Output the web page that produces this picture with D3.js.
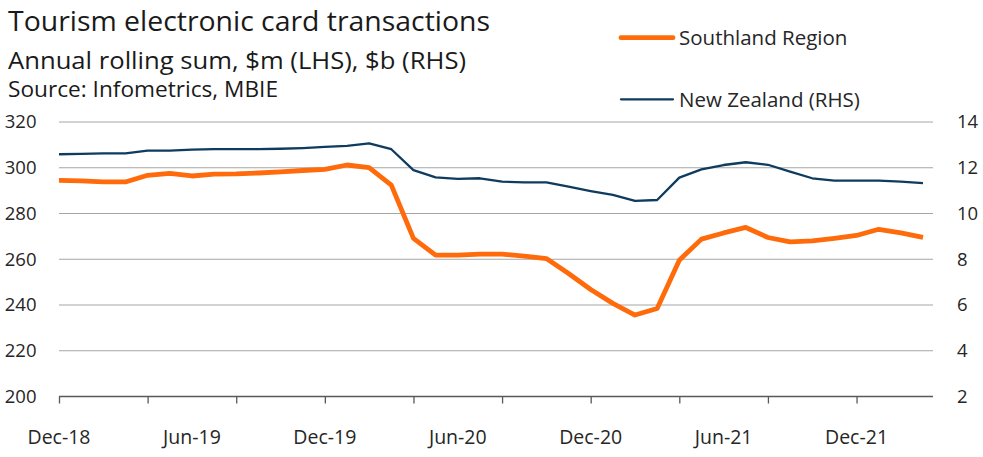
<!DOCTYPE html>
<html><head><meta charset="utf-8">
<script src="https://cdn.jsdelivr.net/npm/d3@7"></script>
<style>
html,body{margin:0;padding:0;background:#fff;}
svg{display:block;font-family:"Open Sans","Noto Sans",sans-serif;}
</style></head>
<body><svg id="c" width="983" height="457"></svg>
<script>
const months = ["Dec-18","Jan-19","Feb-19","Mar-19","Apr-19","May-19","Jun-19","Jul-19","Aug-19","Sep-19","Oct-19","Nov-19",
"Dec-19","Jan-20","Feb-20","Mar-20","Apr-20","May-20","Jun-20","Jul-20","Aug-20","Sep-20","Oct-20","Nov-20",
"Dec-20","Jan-21","Feb-21","Mar-21","Apr-21","May-21","Jun-21","Jul-21","Aug-21","Sep-21","Oct-21","Nov-21",
"Dec-21","Jan-22","Feb-22","Mar-22"];
const southland = [294.5,294.3,293.8,293.8,296.7,297.5,296.4,297.2,297.3,297.7,298.2,298.8,
299.3,301.2,300.1,292.4,269.1,261.8,261.8,262.2,262.2,261.4,260.3,253.8,
246.8,240.7,235.6,238.5,259.6,268.8,271.5,273.9,269.5,267.6,268.0,269.1,
270.4,273.1,271.5,269.6];
const newZealand = [12.59,12.61,12.63,12.63,12.75,12.75,12.79,12.81,12.81,12.81,12.83,12.86,
12.91,12.96,13.07,12.81,11.90,11.58,11.51,11.54,11.39,11.36,11.36,11.17,
10.98,10.81,10.55,10.59,11.57,11.93,12.12,12.24,12.13,11.83,11.54,11.44,
11.44,11.44,11.39,11.33];
const leftTicks = [200,220,240,260,280,300,320];
const rightTicks = [2,4,6,8,10,12,14];
const xLabelMonths = ["Dec-18","Jun-19","Dec-19","Jun-20","Dec-20","Jun-21","Dec-21"];
const xTickEvery = 4;
const titleText = "Tourism electronic card transactions";
const subtitleText = "Annual rolling sum, $m (LHS), $b (RHS)";
const sourceText = "Source: Infometrics, MBIE";
const seriesNames = ["Southland Region","New Zealand (RHS)"];

const svg = d3.select("#c");
const L = 59, R = 933, T = 122, B = 396.5;
const x = d3.scaleLinear().domain([0, months.length - 1]).range([L, 923]);
const yL = d3.scaleLinear().domain([200, 320]).range([B, T]);
const yR = d3.scaleLinear().domain([2, 14]).range([B, T]);

const textCol = "#262626";
// gridlines
svg.append("g").selectAll("line").data(leftTicks.filter(d => d !== 200)).join("line")
  .attr("x1", L).attr("x2", R).attr("y1", d => yL(d)).attr("y2", d => yL(d))
  .attr("stroke", "#a6a6a6").attr("stroke-width", 1);

// left labels
svg.append("g").selectAll("text").data(leftTicks).join("text")
  .attr("x", 36.5).attr("y", d => yL(d)).attr("dy", "0.35em").attr("text-anchor", "end")
  .attr("font-size", 18.5).attr("fill", textCol).text(d => d);
// right labels
svg.append("g").selectAll("text").data(rightTicks).join("text")
  .attr("x", 957).attr("y", d => yR(d)).attr("dy", "0.35em").attr("text-anchor", "start")
  .attr("font-size", 18.5).attr("fill", textCol).text(d => d);

// x axis with tick marks
const tickIdx = d3.range(0, months.length, xTickEvery);
const xAxis = d3.axisBottom(x).tickValues(tickIdx).tickSize(7).tickSizeOuter(0).tickFormat("");
const gx = svg.append("g").attr("transform", `translate(0,${B})`).call(xAxis);
gx.select(".domain").remove();
gx.selectAll(".tick line").attr("stroke", "#595959").attr("stroke-width", 1.3);
svg.append("line").attr("x1", L).attr("x2", R).attr("y1", B).attr("y2", B)
  .attr("stroke", "#595959").attr("stroke-width", 1.3);
// x labels
svg.append("g").selectAll("text").data(xLabelMonths).join("text")
  .attr("x", d => x(months.indexOf(d))).attr("y", 444).attr("text-anchor", "middle")
  .attr("font-size", 19.5).attr("fill", textCol).text(d => d);

// lines
const lineL = d3.line().x((d, i) => x(i)).y(d => yL(d));
const lineR = d3.line().x((d, i) => x(i)).y(d => yR(d));
svg.append("path").datum(newZealand).attr("d", lineR).attr("fill", "none")
  .attr("stroke", "#0e3b5e").attr("stroke-width", 2.3).attr("stroke-linejoin", "round");
svg.append("path").datum(southland).attr("d", lineL).attr("fill", "none")
  .attr("stroke", "#ff6a0a").attr("stroke-width", 4.8).attr("stroke-linejoin", "round");

// titles
svg.append("text").attr("x", 8).attr("y", 31).attr("font-size", 28).attr("fill", "#1a1a1a")
  .attr("textLength", 482).attr("lengthAdjust", "spacingAndGlyphs").text(titleText);
svg.append("text").attr("x", 8).attr("y", 69).attr("font-size", 23).attr("fill", "#1a1a1a")
  .attr("textLength", 458).attr("lengthAdjust", "spacingAndGlyphs").text(subtitleText);
svg.append("text").attr("x", 8).attr("y", 97).attr("font-size", 21).attr("fill", "#1a1a1a")
  .attr("textLength", 270).attr("lengthAdjust", "spacingAndGlyphs").text(sourceText);

// legend
const leg = [
  {name: seriesNames[0], color: "#ff6a0a", w: 4.8, y: 37.7},
  {name: seriesNames[1], color: "#0e3b5e", w: 2.3, y: 99.3}
];
const lg = svg.append("g").selectAll("g").data(leg).join("g");
lg.append("line").attr("x1", 621).attr("x2", 673).attr("y1", d => d.y).attr("y2", d => d.y)
  .attr("stroke", d => d.color).attr("stroke-width", d => d.w).attr("stroke-linecap", "round");
lg.append("text").attr("x", 679).attr("y", d => d.y).attr("dy", "0.36em")
  .attr("font-size", 20.5).attr("fill", textCol).text(d => d.name);
</script></body></html>
